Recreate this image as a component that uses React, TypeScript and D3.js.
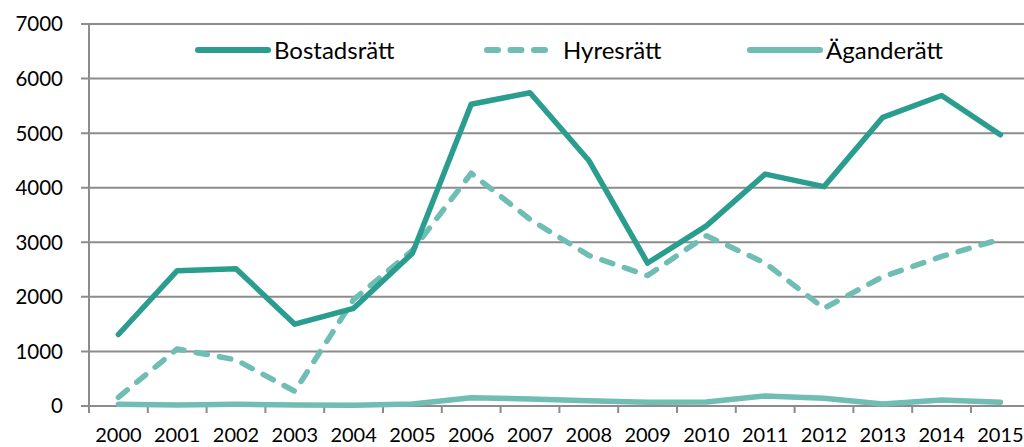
import { useEffect, useRef } from 'react';
import * as d3 from 'd3';

const years = ['2000', '2001', '2002', '2003', '2004', '2005', '2006', '2007', '2008', '2009', '2010', '2011', '2012', '2013', '2014', '2015'];
const bostadsratt = [1310, 2480, 2515, 1500, 1790, 2800, 5530, 5740, 4500, 2620, 3300, 4250, 4020, 5290, 5690, 4970];
const hyresratt = [160, 1045, 845, 270, 1950, 2850, 4265, 3420, 2760, 2390, 3120, 2620, 1790, 2370, 2740, 3055];
const aganderatt = [30, 20, 30, 20, 15, 35, 150, 130, 95, 70, 75, 185, 140, 35, 110, 70];
const yTicks = [0, 1000, 2000, 3000, 4000, 5000, 6000, 7000];

const width = 1024;
const height = 447;
const marginLeft = 89;
const bandStep = 58.8;
const yTop = 24;
const yBottom = 406;

const series = [
  { name: 'Bostadsrätt', values: bostadsratt, color: '#2a9d8f', dash: null, legendX: 198, textX: 274 },
  { name: 'Hyresrätt', values: hyresratt, color: '#6fbdb3', dash: '11.5 12.3', legendX: 487, textX: 563 },
  { name: 'Äganderätt', values: aganderatt, color: '#6fbdb3', dash: null, legendX: 750, textX: 826 },
];

function App() {
  const svgRef = useRef<SVGSVGElement>(null);

  useEffect(() => {
    const svg = d3.select(svgRef.current);
    svg.selectAll('*').remove();

    const xScale = d3
      .scaleBand()
      .domain(years)
      .range([marginLeft, marginLeft + bandStep * years.length]);
    const yScale = d3.scaleLinear().domain([0, 7000]).range([yBottom, yTop]);

    // gridlines + y labels
    const grid = svg.append('g');
    grid
      .selectAll('line')
      .data(yTicks)
      .enter()
      .append('line')
      .attr('x1', marginLeft - 8)
      .attr('x2', width)
      .attr('y1', (d) => yScale(d))
      .attr('y2', (d) => yScale(d))
      .attr('stroke', '#8c8c8c')
      .attr('stroke-width', 2);

    grid
      .selectAll('text')
      .data(yTicks)
      .enter()
      .append('text')
      .attr('x', 63)
      .attr('y', (d) => yScale(d))
      .attr('dy', '0.36em')
      .attr('text-anchor', 'end')
      .attr('font-size', 20.5)
      .attr('fill', '#000')
      .text((d) => d);

    // y axis line
    svg
      .append('line')
      .attr('x1', marginLeft)
      .attr('x2', marginLeft)
      .attr('y1', yTop)
      .attr('y2', yBottom + 7)
      .attr('stroke', '#8c8c8c')
      .attr('stroke-width', 2);

    // x ticks at category boundaries
    const x = svg.append('g');
    x.selectAll('line')
      .data(years)
      .enter()
      .append('line')
      .attr('x1', (d) => xScale(d)! + xScale.bandwidth())
      .attr('x2', (d) => xScale(d)! + xScale.bandwidth())
      .attr('y1', yBottom)
      .attr('y2', yBottom + 7)
      .attr('stroke', '#8c8c8c')
      .attr('stroke-width', 2);

    x.selectAll('text')
      .data(years)
      .enter()
      .append('text')
      .attr('x', (d) => xScale(d)! + xScale.bandwidth() / 2)
      .attr('y', 442)
      .attr('text-anchor', 'middle')
      .attr('font-size', 20)
      .attr('fill', '#000')
      .text((d) => d);

    const line = d3
      .line<number>()
      .x((_d, i) => xScale(years[i])! + xScale.bandwidth() / 2)
      .y((d) => yScale(d));

    // draw Äganderätt first, then Hyresrätt, then Bostadsrätt on top
    [series[2], series[1], series[0]].forEach((s) => {
      svg
        .append('path')
        .datum(s.values)
        .attr('d', line)
        .attr('fill', 'none')
        .attr('stroke', s.color)
        .attr('stroke-width', 5.5)
        .attr('stroke-linejoin', 'round')
        .attr('stroke-linecap', 'round')
        .attr('stroke-dasharray', s.dash);
    });

    // legend
    const legend = svg.append('g');
    series.forEach((s) => {
      legend
        .append('line')
        .attr('x1', s.legendX)
        .attr('x2', s.legendX + 70)
        .attr('y1', 50)
        .attr('y2', 50)
        .attr('stroke', s.color)
        .attr('stroke-width', 6)
        .attr('stroke-linecap', 'round')
        .attr('stroke-dasharray', s.dash ? '11 12.5' : null);
      legend
        .append('text')
        .attr('x', s.textX)
        .attr('y', 50)
        .attr('dy', '0.36em')
        .attr('font-size', 24)
        .attr('fill', '#000')
        .text(s.name);
    });
  }, []);

  return (
    <div className="chart" style={{ position: 'absolute', left: 0, top: 0 }}>
      <svg
        ref={svgRef}
        width={width}
        height={height}
        style={{ display: 'block', fontFamily: 'Lato, "Open Sans", sans-serif' }}
      />
    </div>
  );
}

export default App;
